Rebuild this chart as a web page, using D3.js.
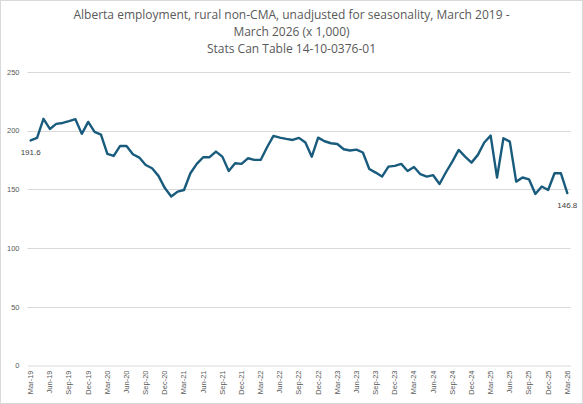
<!DOCTYPE html>
<html><head><meta charset="utf-8">
<script src="https://cdn.jsdelivr.net/npm/d3@7"></script>
<style>body{margin:0;background:#fff}svg{display:block}</style>
</head><body>
<svg id="c" width="583" height="404"></svg>
<script>
const titleLines = ["Alberta employment, rural non-CMA, unadjusted for seasonality, March 2019 -", "March 2026 (x 1,000)", "Stats Can Table 14-10-0376-01"];
const months = ["Mar","Apr","May","Jun","Jul","Aug","Sep","Oct","Nov","Dec","Jan","Feb"];
const startYear = 19;
const values = [
191.6,193.8,210.0,201.4,205.7,206.5,208.0,209.7,197.2,207.4,198.9,196.6,
180.1,178.4,186.9,186.9,179.8,177.0,170.7,167.9,161.4,151.0,143.8,148.0,
149.4,163.6,171.6,177.3,177.3,182.1,177.8,165.6,172.2,171.6,176.4,175.0,
175.0,185.8,195.5,194.0,192.9,192.0,193.8,189.8,177.8,194.0,190.9,189.2,
188.6,184.1,183.0,183.8,181.3,167.3,164.2,160.8,169.3,169.9,171.6,165.6,
169.0,162.8,160.8,162.0,154.5,164.5,173.6,183.5,177.8,172.7,179.3,189.8,
195.7,160.0,193.5,190.6,156.5,160.0,158.5,146.0,152.3,149.4,163.6,163.6,146.8];
const yTicks = [0,50,100,150,200,250];

const labels = values.map((v,i)=>{
  const m = (i) % 12;
  const y = startYear + Math.floor((i+2)/12);
  return months[m] + "-" + y;
});

const svg = d3.select("#c");
svg.append("rect").attr("x",0.5).attr("y",0.5).attr("width",582).attr("height",403)
  .attr("fill","#fff").attr("stroke","#d9d9d9");

const x = d3.scaleBand().domain(labels).range([27.5,570.5]);
const y = d3.scaleLinear().domain([0,250]).range([365.3,71.9]);
const xc = d => x(d) + x.bandwidth()/2;

// title
const t = svg.append("text").attr("text-anchor","middle").attr("fill","#595959")
  .style("font-family","'Open Sans', sans-serif").style("font-size","12px");
titleLines.forEach((s,i)=> t.append("tspan").attr("x",291.5).attr("y",19+i*17).text(s));

// grid
svg.append("g").selectAll("line").data(yTicks.filter(d=>d>0)).join("line")
  .attr("x1",27.5).attr("x2",570.5).attr("y1",d=>Math.round(y(d))+0.5).attr("y2",d=>Math.round(y(d))+0.5)
  .attr("stroke","#d9d9d9").attr("stroke-width",1);

// y axis
const ya = svg.append("g").attr("transform","translate(27.5,0)")
  .call(d3.axisLeft(y).tickValues(yTicks).tickSize(0).tickPadding(8));
ya.select(".domain").remove();
ya.selectAll("text").attr("fill","#595959").style("font-family","'Liberation Sans', Arial, sans-serif").style("font-size","7.5px");

// x axis
const xa = svg.append("g").attr("transform",`translate(0,${Math.round(y(0))+0.5})`)
  .call(d3.axisBottom(x).tickValues(labels.filter((d,i)=>i%3===0)).tickSize(0).tickPadding(0));
xa.select(".domain").attr("stroke","#d9d9d9");
xa.selectAll("text").attr("fill","#595959")
  .style("font-family","'Liberation Sans', Arial, sans-serif").style("font-size","7.5px")
  .attr("text-anchor","end").attr("transform","rotate(-90)")
  .attr("x",-5).attr("y",0).attr("dy","0.32em");

// line
const line = d3.line().x((d,i)=>xc(labels[i])).y(d=>y(d));
svg.append("path").datum(values).attr("d",line).attr("fill","none")
  .attr("stroke","#195b7d").attr("stroke-width",2.4).attr("stroke-linejoin","round").attr("stroke-linecap","round");

// data labels
[0, values.length-1].forEach(i=>{
  svg.append("text").attr("x",xc(labels[i])).attr("y",y(values[i])+15)
    .attr("text-anchor","middle").attr("fill","#404040")
    .style("font-family","'Liberation Sans', Arial, sans-serif").style("font-size","8px")
    .text(values[i].toFixed(1));
});
</script>
</body></html>
